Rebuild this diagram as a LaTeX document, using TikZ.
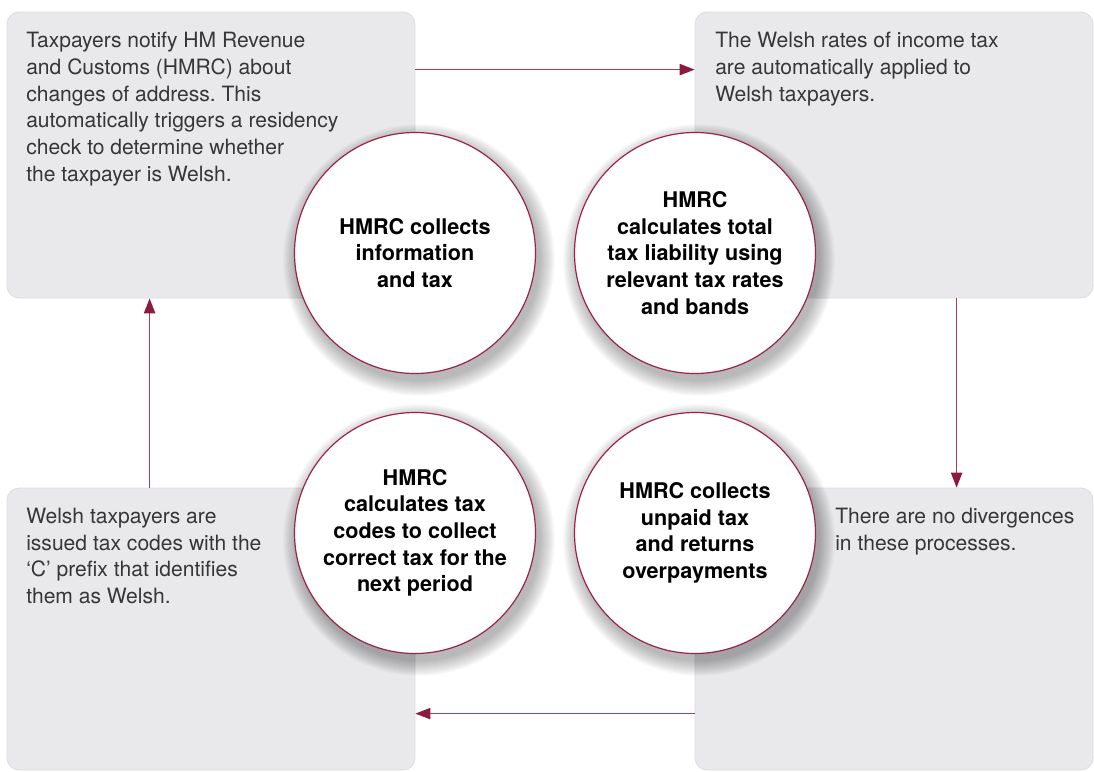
\documentclass[tikz,border=0pt]{standalone}
\usepackage{fontspec}
\setmainfont{TeX Gyre Heros}
\usetikzlibrary{arrows.meta,calc,fit}
\definecolor{boxfill}{HTML}{E9E9EC}
\definecolor{boxline}{HTML}{DCDCE1}
\definecolor{wine}{HTML}{9C2346}
\definecolor{wineline}{HTML}{A5405C}
\definecolor{winetip}{HTML}{8C1A3D}
\definecolor{bodytext}{HTML}{363636}
\begin{document}
\frenchspacing
\begin{tikzpicture}[x=0.75pt,y=-0.75pt,
  box/.style={draw=boxline, line width=0.6pt, fill=boxfill, rounded corners=9pt, inner sep=0pt},
  bodytxt/.style={anchor=north west, inner sep=0pt, align=left, text=bodytext, font=\fontsize{15.8}{20}\selectfont},
  circ/.style={circle, draw=wine, line width=0.9pt, fill=white, minimum size=180.75pt, inner sep=0pt, align=center, text=black, font=\bfseries\fontsize{16.2}{20}\selectfont},
  conn/.style={draw=wineline, line width=1pt, -{Triangle[length=11.25pt,width=8.5pt,color=winetip]}},
  shadowring/.style={fill=black, opacity=0.018}
]
\useasboundingbox (0,0) rectangle (1094,771);

% grey boxes
\node[box, fit={(7,12) (415,298)}] (b1) {};
\node[box, fit={(695,12) (1093,298)}] (b2) {};
\node[box, fit={(7,488) (415,770)}] (b3) {};
\node[box, fit={(695,488) (1093,770)}] (b4) {};

% box texts
\node[bodytxt] (t1) at (26,32) {Taxpayers notify HM Revenue\\and Customs (HMRC) about\\changes of address. This\\automatically triggers a residency\\check to determine whether\\the taxpayer is Welsh.};
\node[bodytxt] (t2) at (715,32) {The Welsh rates of income tax\\are automatically applied to\\Welsh taxpayers.};
\node[bodytxt] (t3) at (26,508) {Welsh taxpayers are\\issued tax codes with the\\‘C’ prefix that identifies\\them as Welsh.};
\node[bodytxt] (t4) at (835,508) {There are no divergences\\in these processes.};

% connectors
\draw[conn] ($(b1.north east)+(0,58)$) -- ($(b2.north west)+(0,58)$);
\draw[conn] ($(b2.south west)+(262,0)$) -- ($(b4.north west)+(262,0)$);
\draw[conn] ($(b4.north west)+(0,226)$) -- ($(b3.north east)+(0,226)$);
\draw[conn] ($(b3.north west)+(143,0)$) -- ($(b1.south west)+(143,0)$);

% circle centres
\coordinate (p1) at (415,253);
\coordinate (p2) at (695,253);
\coordinate (p3) at (415,533);
\coordinate (p4) at (695,533);

% soft shadows
\foreach \p in {p1,p2,p3,p4}{
  \foreach \r in {121,...,136}{
    \fill[shadowring] ($(\p)+(4,7)$) circle[radius=\r];
  }
}

% circles
\node[circ] (c1) at (p1) {HMRC collects\\information\\and tax};
\node[circ] (c2) at (p2) {HMRC\\calculates total\\tax liability using\\relevant tax rates\\and bands};
\node[circ] (c3) at (p3) {HMRC\\calculates tax\\codes to collect\\correct tax for the\\next period};
\node[circ] (c4) at (p4) {HMRC collects\\unpaid tax\\and returns\\overpayments};
\end{tikzpicture}
\end{document}
